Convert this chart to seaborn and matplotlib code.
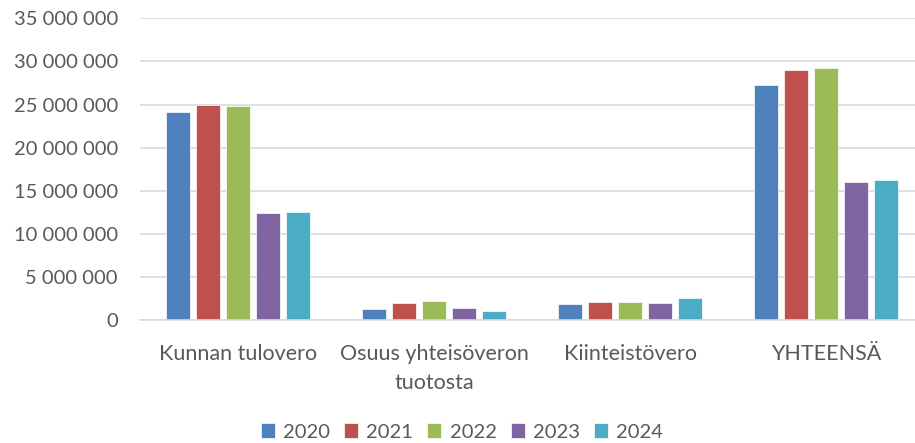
import matplotlib
matplotlib.use("Agg")
import matplotlib.pyplot as plt
import matplotlib.ticker as mticker
import pandas as pd
import seaborn as sns

categories = ["Kunnan tulovero", "Osuus yhteisöveron\ntuotosta", "Kiinteistövero", "YHTEENSÄ"]
years = ["2020", "2021", "2022", "2023", "2024"]

v2020 = [24_100_000, 1_320_000, 1_870_000, 27_300_000]
v2021 = [24_900_000, 1_940_000, 2_100_000, 29_000_000]
v2022 = [24_880_000, 2_180_000, 2_100_000, 29_250_000]
v2023 = [12_420_000, 1_440_000, 1_940_000, 15_980_000]
v2024 = [12_500_000, 1_060_000, 2_560_000, 16_280_000]

colors = ["#4F81BD", "#C0504D", "#9BBB59", "#8064A2", "#4BACC6"]

rows = []
for year, vals in zip(years, [v2020, v2021, v2022, v2023, v2024]):
    for cat, v in zip(categories, vals):
        rows.append({"kategoria": cat, "vuosi": year, "arvo": v})
df = pd.DataFrame(rows)

sns.set_style("white")
plt.rcParams["font.family"] = ["Lato", "DejaVu Sans"]
text_color = "#595959"
fs = 14.5

fig = plt.figure(figsize=(9.15, 4.43), dpi=100)
ax = fig.add_axes([140 / 915, 1 - 320 / 443, 784 / 915, (320 - 18.3) / 443])

sns.barplot(data=df, x="kategoria", y="arvo", hue="vuosi", order=categories,
            hue_order=years, palette=colors, width=0.765, gap=0.22,
            saturation=1, errorbar=None, ax=ax, edgecolor="white", linewidth=0.5)

ax.set_ylim(0, 35_000_000)
ax.set_xlim(-0.5, 3.5)
ax.yaxis.set_major_locator(mticker.MultipleLocator(5_000_000))
ax.yaxis.set_major_formatter(mticker.FuncFormatter(lambda v, p: f"{int(v):,}".replace(",", " ")))
ax.grid(axis="y", color="#D9D9D9", linewidth=1.2)
ax.set_axisbelow(True)
for s in ["top", "right", "left"]:
    ax.spines[s].set_visible(False)
ax.spines["bottom"].set_color("#D9D9D9")
ax.spines["bottom"].set_linewidth(1.2)
ax.tick_params(axis="y", length=0, labelsize=fs, labelcolor=text_color, pad=16)
ax.tick_params(axis="x", length=0, labelsize=15.5, labelcolor=text_color, pad=17)
for lbl in ax.get_xticklabels():
    lbl.set_linespacing(1.6)
ax.set_xlabel("")
ax.set_ylabel("")

ax.legend_.remove()
handles, labels = ax.get_legend_handles_labels()
fig.legend(handles, labels, loc="center", bbox_to_anchor=(462 / 915, 1 - 432 / 443),
           ncol=5, frameon=False, fontsize=fs, handlelength=0.7, handleheight=0.7,
           handletextpad=0.4, columnspacing=0.7, labelcolor=text_color)

fig.savefig("out.png", dpi=100)
